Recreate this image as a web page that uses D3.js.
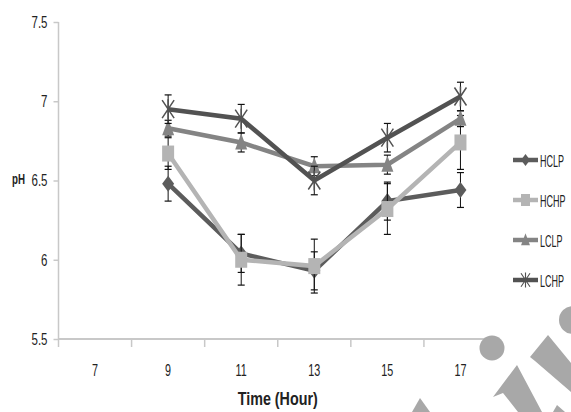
<!DOCTYPE html>
<html>
<head>
<meta charset="utf-8">
<script src="https://cdn.jsdelivr.net/npm/d3@7"></script>
<style>
  body { margin: 0; background: #fff; }
  text { font-family: "Liberation Sans", Arial, sans-serif; }
</style>
</head>
<body>
<div id="chart"></div>
<script>
// data
var hours = ["7", "9", "11", "13", "15", "17"];
var seriesNames = ["HCLP", "HCHP", "LCLP", "LCHP"];
var hclp = [null, 6.48, 6.04, 5.93, 6.37, 6.44];
var hchp = [null, 6.67, 6.00, 5.96, 6.32, 6.74];
var lclp = [null, 6.83, 6.74, 6.59, 6.60, 6.89];
var lchp = [null, 6.95, 6.89, 6.50, 6.77, 7.03];
var hclpErr = [null, 0.11, 0.12, 0.12, 0.12, 0.11];
var hchpErr = [null, 0.10, 0.16, 0.17, 0.16, 0.17];
var lclpErr = [null, 0.05, 0.06, 0.06, 0.06, 0.05];
var lchpErr = [null, 0.09, 0.09, 0.09, 0.09, 0.09];
var yTicks = [5.5, 6, 6.5, 7, 7.5];

var W = 571, H = 412;
var margin = {top: 22, right: 74, bottom: 73, left: 58.5},
    width = W - margin.left - margin.right,
    height = H - margin.top - margin.bottom;

var svg = d3.select("#chart").append("svg")
    .attr("width", W).attr("height", H);

var g = svg.append("g")
    .attr("transform", "translate(" + margin.left + "," + margin.top + ")");

var x = d3.scaleBand().domain(hours).range([0, width]);
var y = d3.scaleLinear().domain([5.5, 7.5]).range([height, 0]);

// the reference uses a very narrow font, so texts get squeezed to its widths
function squeeze(sel, k) {
  sel.each(function() {
    var L = this.getComputedTextLength();
    d3.select(this).attr("textLength", L * k).attr("lengthAdjust", "spacingAndGlyphs");
  });
}
function ratio(node, target) { return target / node.getComputedTextLength(); }

// y axis
var yAx = g.append("g")
    .call(d3.axisLeft(y).tickValues(yTicks).tickSize(5).tickPadding(6)
      .tickFormat(function(d) { return d; }));
yAx.selectAll("line, path").attr("stroke", "#c8c8c8").attr("stroke-width", 1.5);
yAx.select(".domain").attr("d", "M0," + height + "V0");
yAx.selectAll("text").style("font-size", "17px").attr("fill", "#222");
var ky = ratio(yAx.selectAll("text").filter(function(d) { return d === 7.5; }).node(), 16);
squeeze(yAx.selectAll("text"), ky);

// x axis, ticks on band boundaries
var xAx = g.append("g")
    .attr("transform", "translate(0," + height + ")")
    .call(d3.axisBottom(x).tickSize(0).tickPadding(25));
xAx.select(".domain").attr("stroke", "#c8c8c8").attr("stroke-width", 2).attr("d", "M0,0H" + width);
xAx.selectAll("text").style("font-size", "17px").attr("fill", "#222");
var kx = ratio(xAx.selectAll("text").filter(function(d) { return d === "17"; }).node(), 12);
squeeze(xAx.selectAll("text"), kx);
var bounds = hours.map(function(h) { return x(h); }).concat([width]);
xAx.selectAll(".bnd").data(bounds).enter().append("line")
    .attr("x1", function(d) { return d; }).attr("x2", function(d) { return d; })
    .attr("y1", 0).attr("y2", 8)
    .attr("stroke", "#c8c8c8").attr("stroke-width", 1.5);

// axis titles
var xt = svg.append("text").attr("x", margin.left + width / 2).attr("y", 405)
    .attr("text-anchor", "middle").style("font-size", "18px").style("font-weight", "bold")
    .attr("fill", "#222").text("Time (Hour)");
xt.attr("textLength", 80).attr("lengthAdjust", "spacingAndGlyphs");
var yt = svg.append("text").attr("x", 12).attr("y", 184)
    .style("font-size", "14px").style("font-weight", "bold")
    .attr("fill", "#222").text("pH");
yt.attr("textLength", 13).attr("lengthAdjust", "spacingAndGlyphs");

var series = [
  {name: seriesNames[0], vals: hclp, err: hclpErr, color: "#5c5c5c", shape: "diamond"},
  {name: seriesNames[1], vals: hchp, err: hchpErr, color: "#b4b4b4", shape: "square"},
  {name: seriesNames[2], vals: lclp, err: lclpErr, color: "#848484", shape: "triangle"},
  {name: seriesNames[3], vals: lchp, err: lchpErr, color: "#525252", shape: "cross"}
];

function cx(i) { return x(hours[i]) + x.bandwidth() / 2; }

function drawMarker(sel, shape, color) {
  if (shape === "diamond") {
    sel.append("path").attr("d", "M0,-8L6,0L0,8L-6,0Z").attr("fill", color);
  } else if (shape === "square") {
    sel.append("rect").attr("x", -6).attr("y", -8).attr("width", 12).attr("height", 16).attr("fill", color);
  } else if (shape === "triangle") {
    sel.append("path").attr("d", "M0,-9L6,7L-6,7Z").attr("fill", color);
  } else {
    sel.append("path").attr("d", "M-6,-9L6,9M6,-9L-6,9M0,-10V10")
      .attr("stroke", color).attr("stroke-width", 1.5).attr("fill", "none");
  }
}

var line = d3.line()
    .defined(function(d) { return d.v != null; })
    .x(function(d) { return cx(d.i); })
    .y(function(d) { return y(d.v); });

series.forEach(function(s) {
  var pts = s.vals.map(function(v, i) { return {v: v, i: i, e: s.err[i]}; })
      .filter(function(d) { return d.v != null; });

  g.append("path").datum(pts)
    .attr("d", line).attr("fill", "none")
    .attr("stroke", s.color).attr("stroke-width", 4.5);

  // error bars
  var eb = g.append("g").selectAll("g").data(pts).enter().append("g");
  eb.append("line")
    .attr("x1", function(d) { return cx(d.i); }).attr("x2", function(d) { return cx(d.i); })
    .attr("y1", function(d) { return y(d.v + d.e); }).attr("y2", function(d) { return y(d.v - d.e); })
    .attr("stroke", "#111").attr("stroke-width", 1);
  [1, -1].forEach(function(sign) {
    eb.append("line")
      .attr("x1", function(d) { return cx(d.i) - 3.5; }).attr("x2", function(d) { return cx(d.i) + 3.5; })
      .attr("y1", function(d) { return y(d.v + sign * d.e); }).attr("y2", function(d) { return y(d.v + sign * d.e); })
      .attr("stroke", "#111").attr("stroke-width", 1.2);
  });

  g.append("g").selectAll("g").data(pts).enter().append("g")
    .attr("transform", function(d) { return "translate(" + cx(d.i) + "," + y(d.v) + ")"; })
    .each(function() { drawMarker(d3.select(this), s.shape, s.color); });
});

// legend (labels squeezed with a transform so their box stays narrow)
var leg = svg.append("g").selectAll("g").data(series).enter().append("g")
    .attr("transform", function(d, i) { return "translate(513," + (160 + i * 40) + ")"; });
leg.append("line").attr("x1", 0).attr("x2", 25)
    .attr("stroke", function(d) { return d.color; }).attr("stroke-width", 4.5);
leg.append("g").attr("transform", "translate(12.5,0) scale(0.75)")
    .each(function(d) { drawMarker(d3.select(this), d.shape, d.color); });
var lt = leg.append("text")
    .style("font-size", "17px").attr("fill", "#222")
    .text(function(d) { return d.name; });
var kl = ratio(lt.filter(function(d) { return d.name === "HCLP"; }).node(), 24);
lt.attr("transform", "translate(27,6.5) scale(" + kl + ",1)");
</script>
<script>
// watermark shapes in the bottom right corner
var wm = d3.select("svg").append("g").attr("fill", "#a8a8a8");
wm.append("circle").attr("cx", 492).attr("cy", 348).attr("r", 12.5);
wm.append("circle").attr("cx", 573).attr("cy", 320).attr("r", 14);
wm.append("path").attr("d", "M548,335L530,357L535,361L571,392L571,363Z");
wm.append("path").attr("d", "M517,365L493,397L503,393L518,412L542,412Z");
wm.append("path").attr("d", "M557,405L553,412L565,412Z");
wm.append("path").attr("d", "M420,398L412,412L430,412Z");
</script>
</body>
</html>
